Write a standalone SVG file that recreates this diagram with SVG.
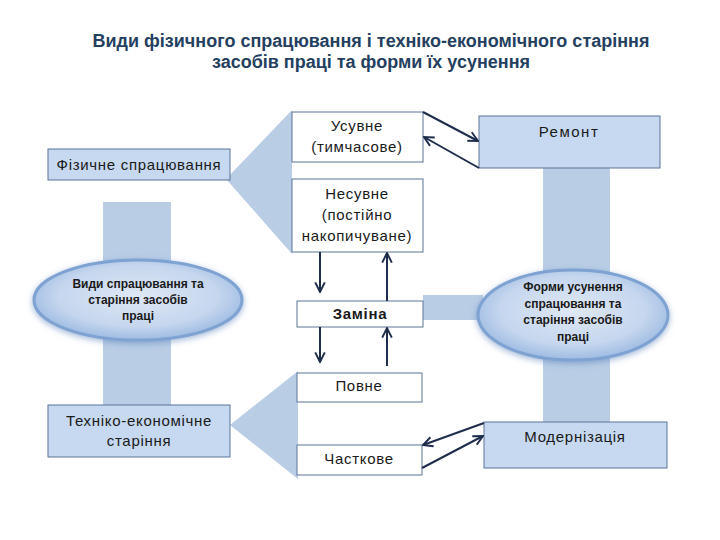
<svg xmlns="http://www.w3.org/2000/svg" width="720" height="540" viewBox="0 0 720 540">
<style>
.t{font-family:"Liberation Sans",Arial,sans-serif;fill:#1a1a1a;text-anchor:middle;font-size:15px;letter-spacing:0.7px}
.title{font-family:"Liberation Sans",Arial,sans-serif;font-weight:bold;font-size:18px;fill:#243f60;text-anchor:middle}
.blue{fill:#c6d9f1;stroke:#5b7497;stroke-width:1}
.white{fill:#ffffff;stroke:#5b7497;stroke-width:1}
.bar{fill:#b9cde5}
.el{fill:url(#eg);stroke:#7ea2d2;stroke-width:3}
.et{font-family:"Liberation Sans",Arial,sans-serif;font-weight:bold;font-size:12px;fill:#1a1a1a;text-anchor:middle}
.ar{stroke:#1f2d4d;stroke-width:2;fill:none;marker-end:url(#ah)}
</style>
<defs>
<marker id="ah" viewBox="0 0 10 10" refX="9" refY="5" markerWidth="6" markerHeight="6" orient="auto-start-reverse" markerUnits="strokeWidth">
<path d="M1,1 L9,5 L1,9" fill="none" stroke="#1f2d4d" stroke-width="1.6"/>
</marker>
<radialGradient id="eg" cx="50%" cy="45%" r="55%">
<stop offset="0%" stop-color="#dfe8f5"/>
<stop offset="70%" stop-color="#c5d6ee"/>
<stop offset="100%" stop-color="#9dbbe2"/>
</radialGradient>
<filter id="glow" x="-20%" y="-30%" width="140%" height="160%">
<feGaussianBlur in="SourceAlpha" stdDeviation="3"/>
<feOffset dx="0" dy="2" result="b"/>
<feFlood flood-color="#5f86bd" flood-opacity="0.6"/>
<feComposite in2="b" operator="in"/>
<feMerge><feMergeNode/><feMergeNode in="SourceGraphic"/></feMerge>
</filter>
</defs>

<g id="title">
<text class="title" x="371" y="47">Види фізичного спрацювання і техніко-економічного старіння</text>
<text class="title" x="371" y="68">засобів праці та форми їх усунення</text>
</g>

<g id="backdrop">
<rect class="bar" x="103" y="202" width="68" height="204"/>
<rect class="bar" x="543" y="168" width="67" height="254"/>
<rect class="bar" x="423" y="295" width="60" height="25"/>
<polygon class="bar" points="226,179 292,110 292,254"/>
<polygon class="bar" points="230,425 298,371 298,479"/>
</g>

<g id="fizychne">
<rect class="blue" x="48" y="149" width="182" height="31"/>
<text class="t" x="139" y="170">Фізичне спрацювання</text>
</g>

<g id="tekhniko">
<rect class="blue" x="48" y="405" width="182" height="52"/>
<text class="t" x="139" y="426">Техніко-економічне</text>
<text class="t" x="139" y="446">старіння</text>
</g>

<g id="usuvne">
<rect class="white" x="292" y="112" width="131" height="50"/>
<text class="t" x="357" y="131">Усувне</text>
<text class="t" x="357" y="152">(тимчасове)</text>
</g>

<g id="nesuvne">
<rect class="white" x="292" y="179" width="131" height="73"/>
<text class="t" x="357" y="199">Несувне</text>
<text class="t" x="357" y="220">(постійно</text>
<text class="t" x="357" y="241">накопичуване)</text>
</g>

<g id="zamina">
<rect class="white" x="297" y="301" width="126" height="26"/>
<text class="t" x="360" y="319" font-weight="bold">Заміна</text>
</g>

<g id="povne">
<rect class="white" x="297" y="373" width="125" height="29"/>
<text class="t" x="359" y="391">Повне</text>
</g>

<g id="chastkove">
<rect class="white" x="297" y="445" width="125" height="30"/>
<text class="t" x="359" y="464">Часткове</text>
</g>

<g id="remont">
<rect class="blue" x="479" y="116" width="181" height="52"/>
<text class="t" x="569" y="137" style="letter-spacing:1.5px">Ремонт</text>
</g>

<g id="modernizatsiia">
<rect class="blue" x="484" y="422" width="183" height="46"/>
<text class="t" x="575" y="442">Модернізація</text>
</g>

<g id="vydy">
<ellipse class="el" cx="138" cy="300" rx="104" ry="40" filter="url(#glow)"/>
<text class="et" x="138" y="288">Види спрацювання та</text>
<text class="et" x="138" y="304">старіння засобів</text>
<text class="et" x="138" y="320">праці</text>
</g>

<g id="formy">
<ellipse class="el" cx="573" cy="315" rx="95" ry="45" filter="url(#glow)"/>
<text class="et" x="573" y="291">Форми усунення</text>
<text class="et" x="573" y="308">спрацювання та</text>
<text class="et" x="573" y="324">старіння засобів</text>
<text class="et" x="573" y="341">праці</text>
</g>

<g id="connectors">
<line class="ar" x1="423" y1="112" x2="478" y2="141"/>
<line class="ar" x1="479" y1="168" x2="424" y2="137"/>
<line class="ar" x1="320" y1="252" x2="320" y2="292"/>
<line class="ar" x1="387" y1="301" x2="387" y2="253"/>
<line class="ar" x1="320" y1="327" x2="320" y2="362"/>
<line class="ar" x1="387" y1="366" x2="387" y2="328"/>
<line class="ar" x1="484" y1="423" x2="423" y2="445"/>
<line class="ar" x1="422" y1="468" x2="483" y2="436"/>
</g>
</svg>
